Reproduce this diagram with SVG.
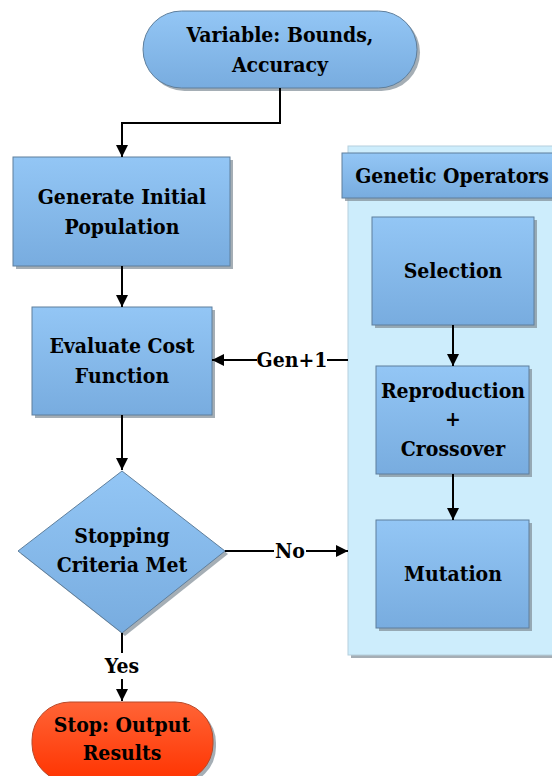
<svg xmlns="http://www.w3.org/2000/svg" width="552" height="776" viewBox="0 0 552 776">
<defs>
<linearGradient id="blue" x1="0" y1="0" x2="0" y2="1">
<stop offset="0" stop-color="#93c6f5"/>
<stop offset="1" stop-color="#78acdf"/>
</linearGradient>
<linearGradient id="red" x1="0" y1="0" x2="0" y2="1">
<stop offset="0" stop-color="#ff6436"/>
<stop offset="1" stop-color="#ff3300"/>
</linearGradient>
<marker id="arr" viewBox="0 0 10 10" refX="10" refY="5" markerWidth="12" markerHeight="12" markerUnits="userSpaceOnUse" orient="auto">
<path d="M0,0 L10,5 L0,10 z" fill="#000"/>
</marker>
</defs>
<style>
.shape{fill:url(#blue);stroke:#5f7f9c;stroke-width:1}
.shadow{fill:#7f8c96;opacity:0.7}
.t{font-family:'DejaVu Serif Condensed','DejaVu Serif',serif;font-weight:bold;font-size:21px;fill:#000;text-anchor:middle}
.c{fill:none;stroke:#000;stroke-width:2}
</style>
<rect width="552" height="776" fill="#fff"/>

<g id="panel">
<rect x="351" y="149" width="210" height="509" class="shadow" opacity="0.35"/>
<rect x="348" y="146" width="210" height="509" fill="#cdedfc" stroke="#b5cfdd" stroke-width="1"/>
</g>

<g id="header">
<rect x="345" y="156" width="215" height="45" class="shadow"/>
<rect x="342" y="153" width="215" height="45" class="shape"/>
<text x="452" y="183" class="t">Genetic Operators</text>
</g>

<g id="start">
<rect x="146" y="14" width="274" height="77" rx="38.5" class="shadow"/>
<rect x="143" y="11" width="274" height="77" rx="38.5" class="shape"/>
<text x="280" y="42" class="t">Variable: Bounds,</text>
<text x="280" y="72" class="t">Accuracy</text>
</g>

<g id="generate">
<rect x="16" y="160" width="217" height="109" class="shadow"/>
<rect x="13" y="157" width="217" height="109" class="shape"/>
<text x="122" y="204" class="t">Generate Initial</text>
<text x="122" y="234" class="t">Population</text>
</g>

<g id="evaluate">
<rect x="35" y="310" width="180" height="108" class="shadow"/>
<rect x="32" y="307" width="180" height="108" class="shape"/>
<text x="122" y="353" class="t">Evaluate Cost</text>
<text x="122" y="383" class="t">Function</text>
</g>

<g id="decision">
<polygon points="125,474 228,554 125,636 21,554" class="shadow"/>
<polygon points="122,471 225,551 122,633 18,551" class="shape"/>
<text x="122" y="543" class="t">Stopping</text>
<text x="122" y="572" class="t">Criteria Met</text>
</g>

<g id="stop">
<rect x="35" y="705" width="181" height="80" rx="38" class="shadow"/>
<rect x="32" y="702" width="181" height="80" rx="38" fill="url(#red)" stroke="#b84a2a" stroke-width="1"/>
<text x="122" y="732" class="t">Stop: Output</text>
<text x="122" y="760" class="t">Results</text>
</g>

<g id="selection">
<rect x="375" y="220" width="162" height="108" class="shadow"/>
<rect x="372" y="217" width="162" height="108" class="shape"/>
<text x="453" y="278" class="t">Selection</text>
</g>

<g id="reproduction">
<rect x="379" y="369" width="153" height="108" class="shadow"/>
<rect x="376" y="366" width="153" height="108" class="shape"/>
<text x="453" y="398" class="t">Reproduction</text>
<text x="453" y="426" class="t">+</text>
<text x="453" y="456" class="t">Crossover</text>
</g>

<g id="mutation">
<rect x="379" y="523" width="153" height="108" class="shadow"/>
<rect x="376" y="520" width="153" height="108" class="shape"/>
<text x="453" y="581" class="t">Mutation</text>
</g>

<g id="connectors">
<path d="M280,88 V123 H122 V157" class="c" marker-end="url(#arr)"/>
<path d="M122,266 V307" class="c" marker-end="url(#arr)"/>
<path d="M122,415 V470" class="c" marker-end="url(#arr)"/>
<path d="M348,360 H212" class="c" marker-end="url(#arr)"/>
<rect x="257" y="346" width="70" height="26" fill="#fff"/>
<text x="292" y="367" class="t">Gen+1</text>
<path d="M225,551 H348" class="c" marker-end="url(#arr)"/>
<rect x="274" y="538" width="32" height="26" fill="#fff"/>
<text x="290" y="558" class="t">No</text>
<path d="M122,633 V701" class="c" marker-end="url(#arr)"/>
<rect x="102" y="653" width="40" height="26" fill="#fff"/>
<text x="122" y="673" class="t">Yes</text>
<path d="M453,325 V366" class="c" marker-end="url(#arr)"/>
<path d="M453,474 V520" class="c" marker-end="url(#arr)"/>
</g>
</svg>
